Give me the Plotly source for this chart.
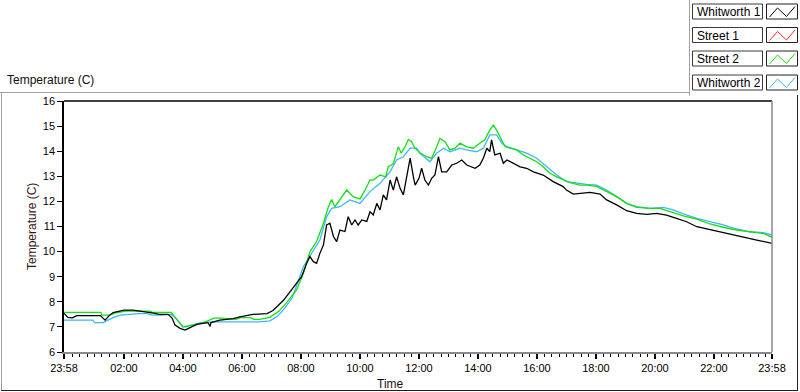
import plotly.graph_objects as go

# ---------------- data (hours after midnight; 23:58 of previous day = -2/60) ----------------
W1_H = [-0.033, 0.1, 0.25, 0.4, 0.8, 1.2, 1.36, 1.5, 1.63, 2.0, 2.3, 2.5, 2.78, 3.0, 3.2, 3.5, 3.63, 3.73,
        3.9, 4.07, 4.24, 4.47, 4.68, 4.85, 4.92, 4.95, 5.25, 5.5, 5.7, 5.93, 6.37, 6.85, 7.05, 7.4, 7.63,
        7.85, 8.02, 8.19, 8.3, 8.42, 8.53, 8.64, 8.76, 8.87, 8.98, 9.1, 9.21, 9.32, 9.49, 9.6, 9.72, 9.83,
        9.94, 10.06, 10.23, 10.34, 10.45, 10.57, 10.68, 10.79, 10.9, 11.02, 11.13, 11.24, 11.36, 11.47,
        11.58, 11.7, 11.81, 11.87, 12.0, 12.09, 12.2, 12.32, 12.43, 12.54, 12.66, 12.77, 12.94, 13.11,
        13.28, 13.45, 13.62, 13.79, 13.9, 14.06, 14.18, 14.3, 14.4, 14.46, 14.57, 14.75, 14.86, 14.98,
        15.2, 15.43, 15.65, 15.88, 16.21, 16.55, 16.89, 17.0, 17.23, 17.45, 17.8, 18.14, 18.36, 18.7,
        19.04, 19.38, 19.72, 20.06, 20.39, 20.73, 21.07, 21.42, 21.75, 22.09, 22.55, 23.0, 23.45, 23.967]
W1_T = [7.54, 7.38, 7.36, 7.45, 7.45, 7.45, 7.27, 7.45, 7.57, 7.67, 7.67, 7.64, 7.57, 7.55, 7.5, 7.5, 7.35, 7.07,
        6.94, 6.87, 6.97, 7.1, 7.14, 7.17, 7.02, 7.17, 7.27, 7.3, 7.33, 7.4, 7.5, 7.53, 7.65, 8.05, 8.4,
        8.74, 9.0, 9.53, 9.8, 9.6, 9.53, 9.93, 10.26, 11.06, 11.13, 10.6, 10.4, 10.86, 10.8, 11.39, 11.06, 11.26,
        11.06, 11.26, 11.2, 11.59, 11.46, 11.92, 11.66, 12.26, 12.06, 12.85, 12.45, 12.98, 12.52, 12.26,
        12.98, 13.72, 12.98, 12.65, 12.92, 13.32, 12.85, 12.65, 12.92, 13.05, 13.78, 13.18, 13.18, 13.45,
        13.52, 13.65, 13.45, 13.38, 13.32, 13.45, 13.72, 14.12, 13.98, 14.45, 13.85, 13.92, 13.52, 13.65,
        13.52, 13.38, 13.32, 13.18, 13.05, 12.79, 12.59, 12.45, 12.29, 12.32, 12.36, 12.29, 12.06, 11.86,
        11.63, 11.52, 11.48, 11.52, 11.45, 11.32, 11.19, 10.99, 10.9, 10.82, 10.7, 10.57, 10.46, 10.33]

S1_H = []   # Street 1: no visible data in the reference
S1_T = []

S2_H = [-0.033, 1.22, 1.25, 1.52, 1.7, 2.05, 2.9, 2.95, 3.6, 4.0, 4.3, 4.7, 5.05, 5.3, 5.8, 5.95, 6.3, 6.4,
        6.6, 6.95, 7.05, 7.25, 7.5, 7.85, 8.08, 8.3, 8.53, 8.76, 8.93, 9.04, 9.15, 9.32, 9.55, 9.77, 10.0,
        10.17, 10.34, 10.45, 10.68, 10.87, 10.96, 11.13, 11.3, 11.4, 11.53, 11.64, 11.75, 11.86, 12.03,
        12.26, 12.43, 12.6, 12.71, 12.88, 13.05, 13.22, 13.39, 13.6, 13.84, 14.06, 14.23, 14.4, 14.52,
        14.63, 14.75, 14.92, 15.09, 15.31, 15.54, 15.76, 15.99, 16.21, 16.44, 16.67, 16.89, 17.12, 17.46,
        17.68, 18.02, 18.36, 18.7, 19.04, 19.38, 19.83, 20.17, 20.51, 20.96, 21.42, 21.86, 22.32, 22.77,
        23.22, 23.67, 23.967]
S2_T = [7.58, 7.58, 7.47, 7.47, 7.55, 7.63, 7.63, 7.58, 7.58, 7.0, 7.07, 7.17, 7.35, 7.35, 7.3, 7.37, 7.37, 7.3,
        7.3, 7.38, 7.47, 7.62, 7.95, 8.47, 9.13, 9.99, 10.4, 11.13, 11.79, 12.08, 11.79, 12.06, 12.45, 12.19, 12.1,
        12.45, 12.85, 12.85, 13.05, 12.98, 13.38, 13.5, 14.18, 13.92, 14.18, 14.47, 14.38, 14.12, 13.94,
        13.78, 13.72, 14.18, 14.51, 14.38, 14.05, 14.12, 14.32, 14.18, 14.12, 14.32, 14.45, 14.84, 15.04,
        14.84, 14.58, 14.18, 14.12, 14.05, 13.85, 13.72, 13.58, 13.38, 13.12, 12.98, 12.88, 12.75, 12.65,
        12.65, 12.6, 12.39, 12.19, 11.92, 11.76, 11.72, 11.72, 11.59, 11.42, 11.29, 11.1, 10.97, 10.86,
        10.79, 10.73, 10.57]

W2_H = [-0.033, 0.95, 1.0, 1.3, 1.4, 1.63, 1.87, 2.1, 2.5, 2.8, 2.95, 3.3, 3.45, 3.6, 3.67, 4.0, 4.1, 4.3,
        4.6, 5.03, 5.6, 5.93, 6.5, 6.6, 6.95, 7.2, 7.45, 7.7, 8.08, 8.42, 8.64, 8.87, 9.04, 9.32, 9.66, 10.0,
        10.34, 10.68, 11.02, 11.24, 11.47, 11.7, 11.92, 12.03, 12.37, 12.6, 12.83, 13.05, 13.39, 13.6, 13.96,
        14.18, 14.4, 14.63, 14.81, 14.98, 15.31, 15.65, 15.99, 16.32, 16.67, 17.0, 17.46, 17.68, 18.02,
        18.36, 18.7, 19.04, 19.38, 19.83, 20.28, 20.62, 20.96, 21.42, 21.86, 22.32, 22.77, 23.22, 23.67, 23.967]
W2_T = [7.27, 7.27, 7.17, 7.17, 7.24, 7.37, 7.47, 7.5, 7.53, 7.53, 7.47, 7.47, 7.5, 7.5, 7.45, 7.0, 7.0, 7.07,
        7.17, 7.2, 7.2, 7.23, 7.23, 7.2, 7.24, 7.42, 7.75, 8.15, 9.4, 10.06, 10.46, 11.39, 11.72, 11.79, 12.06, 11.92,
        12.39, 12.72, 13.18, 13.65, 13.78, 14.12, 14.12, 13.92, 13.58, 13.92, 14.12, 13.98, 14.12, 14.05, 13.98,
        14.12, 14.65, 14.65, 14.32, 14.18, 14.05, 13.92, 13.72, 13.38, 13.05, 12.79, 12.7, 12.68, 12.65,
        12.45, 12.19, 11.92, 11.79, 11.72, 11.76, 11.66, 11.5, 11.32, 11.19, 11.06, 10.9, 10.79, 10.76, 10.66]

SERIES_NAMES = ["Whitworth 1", "Street 1", "Street 2", "Whitworth 2"]
SERIES_COLORS = ["#000000", "#ff2a2a", "#12e012", "#3db8f5"]

X_RANGE = [-2 / 60, 24 - 2 / 60]
TICK_VALS = [-2 / 60, 2, 4, 6, 8, 10, 12, 14, 16, 18, 20, 22, 24 - 2 / 60]
TICK_TEXT = ["23:58", "02:00", "04:00", "06:00", "08:00", "10:00", "12:00",
             "14:00", "16:00", "18:00", "20:00", "22:00", "23:58"]
Y_RANGE = [6, 16]
Y_TITLE = "Temperature (C)"
X_TITLE = "Time"
PANEL_TITLE = "Temperature (C)"

# ---------------- layout geometry (pixels) ----------------
W, H = 800, 392
PL, PR, PT, PB = 64, 772, 101, 352


def fx(px):
    return (px - PL) / (PR - PL)


def fy(py):
    return (PB - py) / (PB - PT)


FONT = "Liberation Sans, Arial, sans-serif"

fig = go.Figure()
series = {
    "Whitworth 2": (W2_H, W2_T),
    "Street 1": (S1_H, S1_T),
    "Street 2": (S2_H, S2_T),
    "Whitworth 1": (W1_H, W1_T),
}
for name in ["Whitworth 2", "Street 1", "Street 2", "Whitworth 1"]:
    hx, ty = series[name]
    col = SERIES_COLORS[SERIES_NAMES.index(name)]
    fig.add_trace(go.Scatter(x=hx, y=ty, mode="lines", name=name,
                             line=dict(color=col, width=1.3), showlegend=False))

shapes = []
# plot frame: top black, right gray
shapes.append(dict(type="line", xref="paper", yref="paper", x0=0, x1=1, y0=1, y1=1,
                   line=dict(color="black", width=1.5)))
shapes.append(dict(type="line", xref="paper", yref="paper", x0=1, x1=1, y0=0, y1=1,
                   line=dict(color="#8a8a8a", width=1.5)))
# panel borders
shapes.append(dict(type="line", xref="paper", yref="paper", x0=fx(0), x1=fx(689.5), y0=fy(92.5), y1=fy(92.5),
                   line=dict(color="#a0a0a0", width=1)))
shapes.append(dict(type="line", xref="paper", yref="paper", x0=fx(689.5), x1=fx(689.5), y0=fy(0), y1=fy(95.5),
                   line=dict(color="#a0a0a0", width=1)))
shapes.append(dict(type="line", xref="paper", yref="paper", x0=fx(1.5), x1=fx(1.5), y0=fy(92.5), y1=fy(391),
                   line=dict(color="#a0a0a0", width=1)))
shapes.append(dict(type="line", xref="paper", yref="paper", x0=fx(1), x1=fx(798), y0=fy(390.5), y1=fy(390.5),
                   line=dict(color="#202020", width=1)))
shapes.append(dict(type="line", xref="paper", yref="paper", x0=fx(797.5), x1=fx(797.5), y0=fy(95), y1=fy(391),
                   line=dict(color="#202020", width=1)))

annotations = []
# legend boxes
row_tops = [4, 27.5, 51, 75]
row_h = 15
for i, name in enumerate(SERIES_NAMES):
    t = row_tops[i]
    b = t + row_h
    shapes.append(dict(type="rect", xref="paper", yref="paper", x0=fx(692.5), x1=fx(762.5),
                       y0=fy(b), y1=fy(t), line=dict(color="#3a3a3a", width=1), fillcolor="white"))
    shapes.append(dict(type="rect", xref="paper", yref="paper", x0=fx(766.5), x1=fx(797.5),
                       y0=fy(b), y1=fy(t), line=dict(color="#202020", width=1), fillcolor="white"))
    pts = [(769.5, t + 13), (777.5, t + 4), (786.5, t + 12.5), (795, t + 2.5)]
    path = "M " + " L ".join(f"{fx(px):.5f},{fy(py):.5f}" for px, py in pts)
    shapes.append(dict(type="path", xref="paper", yref="paper", path=path,
                       line=dict(color=SERIES_COLORS[i], width=1)))
    annotations.append(dict(text=name, xref="paper", yref="paper", x=fx(694.5), y=fy(t + row_h / 2 + 0.5),
                            xanchor="left", yanchor="middle", showarrow=False,
                            font=dict(family=FONT, size=12, color="black")))

annotations.append(dict(text=PANEL_TITLE, xref="paper", yref="paper", x=fx(5), y=fy(80),
                        xanchor="left", yanchor="middle", showarrow=False,
                        font=dict(family=FONT, size=12, color="#101010")))
annotations.append(dict(text=X_TITLE, xref="paper", yref="paper", x=fx(390), y=fy(384),
                        xanchor="center", yanchor="middle", showarrow=False,
                        font=dict(family=FONT, size=12, color="#1a1010")))
annotations.append(dict(text=Y_TITLE, xref="paper", yref="paper", x=fx(32), y=fy(227),
                        xanchor="center", yanchor="middle", showarrow=False, textangle=-90,
                        font=dict(family=FONT, size=12, color="#3a1414")))

fig.update_layout(
    width=W, height=H, autosize=False,
    margin=dict(l=PL, r=W - PR, t=PT, b=H - PB, pad=0, autoexpand=False),
    paper_bgcolor="white", plot_bgcolor="white",
    font=dict(family=FONT, size=11, color="black"),
    shapes=shapes, annotations=annotations,
    showlegend=False,
    xaxis=dict(range=X_RANGE, tickmode="array", tickvals=TICK_VALS, ticktext=TICK_TEXT,
               ticks="outside", ticklen=5, tickwidth=2, tickcolor="black",
               showline=True, linecolor="#8a8a8a", linewidth=1.5, showgrid=False, zeroline=False,
               tickfont=dict(family=FONT, size=11, color="black"),
               minor=dict(tickmode="linear", tick0=0, dtick=0.25, ticks="outside", ticklen=3,
                          tickwidth=1, tickcolor="black", showgrid=False)),
    yaxis=dict(range=Y_RANGE, tickmode="linear", tick0=6, dtick=1,
               ticks="outside", ticklen=5, tickwidth=1, tickcolor="black",
               showline=True, linecolor="black", linewidth=1.5, showgrid=False, zeroline=False,
               tickfont=dict(family=FONT, size=11, color="black")),
)

fig.write_html("out.html",
               config={"displayModeBar": False},
               post_script="document.body.style.margin='0';document.body.style.padding='0';"
                           "document.body.style.overflow='hidden';")
